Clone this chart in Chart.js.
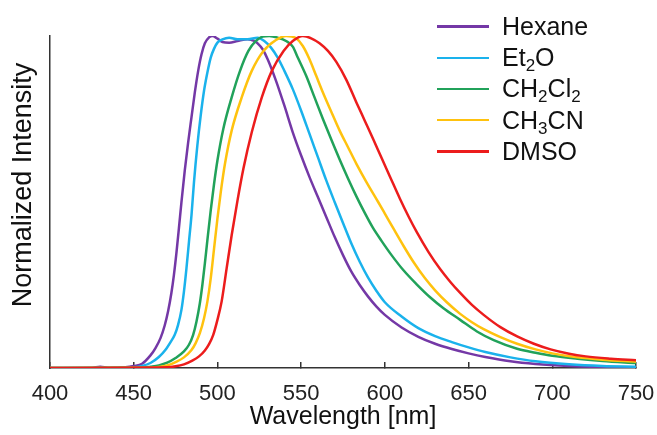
<!DOCTYPE html>
<html>
<head>
<meta charset="utf-8">
<script src="https://cdn.jsdelivr.net/npm/chart.js@4.4.1/dist/chart.umd.min.js"></script>
<style>
  body { margin: 0; background: #fff; }
  #wrap { position: relative; width: 657px; height: 435px; }
  #legend {
    position: absolute; left: 437px; top: 11px;
    font-family: 'Liberation Sans', Arial, sans-serif; font-size: 25px; color: #111;
  }
  .row { display: flex; align-items: center; height: 31.2px; white-space: nowrap; }
  .swatch { width: 52px; height: 2.5px; margin-right: 13px; }
  sub { font-size: 0.68em; vertical-align: -0.32em; line-height: 0; }
</style>
</head>
<body>
<div id="wrap">
  <canvas id="chart" width="657" height="435"></canvas>
  <div id="legend"></div>
</div>
<script>
// Emission spectra, normalized
const seriesNames = ['Hexane', 'Et2O', 'CH2Cl2', 'CH3CN', 'DMSO'];
const seriesColors = ['#7438a6', '#1ab2ec', '#21a25a', '#ffc20e', '#ec1c1c'];

const hexaneX = [400, 425, 430, 435, 445, 450, 455, 460, 463, 466, 468.5, 470.5, 472.5, 474, 475.5, 477, 478.5, 480.5, 482.5, 484.5, 486.5, 488.5, 490.5, 492.5, 495, 497, 500, 503, 507, 512, 518, 522, 524, 527, 530, 535, 540, 545, 550, 555, 560, 565, 570, 575, 580, 585, 590, 595, 600, 610, 620, 630, 640, 650, 660, 675, 690, 710, 730, 750];
const hexaneY = [0, 0, 0.004, 0, 0.002, 0.006, 0.013, 0.038, 0.06, 0.09, 0.128, 0.17, 0.226, 0.28, 0.346, 0.421, 0.499, 0.595, 0.679, 0.755, 0.83, 0.895, 0.945, 0.978, 0.996, 1.0, 0.992, 0.982, 0.98, 0.985, 0.99, 0.985, 0.978, 0.96, 0.93, 0.865, 0.79, 0.71, 0.64, 0.575, 0.515, 0.455, 0.395, 0.34, 0.29, 0.25, 0.215, 0.185, 0.16, 0.122, 0.094, 0.073, 0.057, 0.044, 0.033, 0.02, 0.012, 0.006, 0.003, 0.002];

const et2oX = [400, 450, 455, 460, 465, 469, 472, 474.5, 476.5, 478.5, 480, 481.5, 483, 484.5, 486, 488, 490, 492, 494, 496, 498, 500, 503, 507, 512, 518, 524, 528, 532, 536, 540, 545, 550, 555, 560, 565, 570, 575, 580, 585, 590, 595, 600, 610, 620, 630, 640, 650, 660, 675, 690, 710, 730, 750];
const et2oY = [0, 0.002, 0.006, 0.015, 0.033, 0.055, 0.078, 0.1, 0.13, 0.175, 0.23, 0.3, 0.38, 0.46, 0.56, 0.67, 0.76, 0.835, 0.89, 0.935, 0.962, 0.98, 0.99, 0.995, 0.99, 0.99, 0.995, 0.985, 0.965, 0.935, 0.895, 0.84, 0.775, 0.705, 0.635, 0.565, 0.5, 0.437, 0.375, 0.32, 0.272, 0.232, 0.198, 0.155, 0.12, 0.096, 0.078, 0.062, 0.048, 0.032, 0.02, 0.011, 0.006, 0.004];

const ch2cl2X = [400, 455, 460, 465, 470, 475, 480, 483, 485.5, 487.5, 489.5, 491, 492.5, 494, 496, 498, 500, 503.5, 508.5, 513.5, 518.5, 523, 527, 531, 536, 541, 545, 548, 553, 558, 563, 568, 573, 578, 583, 588, 593, 598, 604, 611, 619, 627, 635, 645, 655, 665, 679, 690, 700, 715, 730, 750];
const ch2cl2Y = [0, 0.001, 0.004, 0.008, 0.016, 0.03, 0.05, 0.07, 0.1, 0.14, 0.195, 0.25, 0.315, 0.385, 0.475, 0.555, 0.625, 0.72, 0.815, 0.895, 0.955, 0.985, 0.998, 1.0, 0.995, 0.985, 0.968, 0.935, 0.88, 0.815, 0.75, 0.688, 0.628, 0.571, 0.517, 0.467, 0.421, 0.383, 0.34, 0.295, 0.252, 0.213, 0.18, 0.145, 0.11, 0.084, 0.058, 0.046, 0.037, 0.028, 0.021, 0.015];

const ch3cnX = [400, 460, 465, 470, 475, 480, 484.5, 487, 489.5, 492, 494, 496, 498, 500, 502, 504.5, 508.5, 514.5, 520.5, 527.5, 535, 541, 547, 551, 555, 559, 563, 568, 573, 578, 583, 589, 596, 600, 605, 611, 617, 624, 630, 637, 645, 652, 659, 669, 679, 690, 700, 715, 730, 750];
const ch3cnY = [0, 0.001, 0.003, 0.008, 0.018, 0.032, 0.054, 0.075, 0.105, 0.15, 0.2, 0.27, 0.36, 0.45, 0.53, 0.615, 0.715, 0.815, 0.895, 0.955, 0.988, 1.0, 0.993, 0.97, 0.93, 0.88, 0.83, 0.772, 0.715, 0.665, 0.615, 0.56, 0.5, 0.465, 0.421, 0.369, 0.32, 0.27, 0.234, 0.198, 0.163, 0.138, 0.117, 0.093, 0.073, 0.056, 0.044, 0.032, 0.025, 0.019];

const dmsoX = [400, 470, 475, 480, 485, 489, 492.5, 495, 497.5, 500, 502.5, 505.5, 508.5, 512, 515.5, 520.5, 526.5, 532.5, 539.5, 545, 551, 556, 561, 566, 571, 577, 583, 588, 593, 598, 603, 609, 614, 619, 626, 633, 639, 645, 652, 659, 669, 679, 689, 699, 710, 720, 735, 750];
const dmsoY = [0, 0.002, 0.005, 0.011, 0.022, 0.035, 0.053, 0.072, 0.1, 0.145, 0.2, 0.3, 0.4, 0.505, 0.6, 0.71, 0.815, 0.895, 0.955, 0.985, 1.0, 0.993, 0.978, 0.955, 0.922, 0.868, 0.8, 0.745, 0.69, 0.633, 0.577, 0.51, 0.458, 0.41, 0.35, 0.298, 0.26, 0.226, 0.19, 0.16, 0.123, 0.095, 0.073, 0.056, 0.043, 0.035, 0.028, 0.023];

const xTicks = [400, 450, 500, 550, 600, 650, 700, 750];
const xTitle = 'Wavelength [nm]';
const yTitle = 'Normalized Intensity';

const seriesX = [hexaneX, et2oX, ch2cl2X, ch3cnX, dmsoX];
const seriesY = [hexaneY, et2oY, ch2cl2Y, ch3cnY, dmsoY];

const fontFamily = "'Liberation Sans', Arial, sans-serif";
const axisColor = '#333';

// Zip x/y arrays into points
function toPoints(xs, ys) {
    return xs.map((x, i) => ({ x: x, y: ys[i] }));
}

// Later solvents are drawn on top (lower order = drawn last)
const datasets = seriesNames.map((name, i) => ({
    label: name,
    data: toPoints(seriesX[i], seriesY[i]),
    borderColor: seriesColors[i],
    borderWidth: 2.5,
    pointRadius: 0,
    fill: false,
    cubicInterpolationMode: 'monotone',
    order: seriesNames.length - i
}));

// Rotated y-axis title, centred on the plot like the original
const yTitlePlugin = {
    id: 'yTitle',
    afterDraw(chart) {
        const ctx = chart.ctx;
        ctx.save();
        ctx.translate(24, 185);
        ctx.rotate(-Math.PI / 2);
        ctx.font = '27px ' + fontFamily;
        ctx.fillStyle = '#111';
        ctx.textAlign = 'center';
        ctx.textBaseline = 'middle';
        ctx.fillText(yTitle, 0, 0);
        ctx.restore();
    }
};

new Chart(document.getElementById('chart'), {
    type: 'line',
    data: { datasets: datasets },
    plugins: [yTitlePlugin],
    options: {
        responsive: false,
        animation: false,
        layout: { padding: { top: 36, right: 21, left: 0, bottom: 0 } },
        plugins: {
            legend: { display: false },
            tooltip: { enabled: false }
        },
        scales: {
            x: {
                type: 'linear',
                min: 400,
                max: 750,
                afterFit: scale => {
                    scale.height = 67;
                    scale.paddingLeft = 0;
                    scale.paddingRight = 0;
                },
                afterBuildTicks: scale => { scale.ticks = xTicks.map(v => ({ value: v })); },
                ticks: {
                    color: '#222',
                    padding: 19,
                    font: { size: 22, family: fontFamily }
                },
                grid: {
                    drawOnChartArea: false,
                    tickLength: -6,
                    color: axisColor,
                    lineWidth: 1.5
                },
                border: { color: axisColor, width: 1.5 },
                title: {
                    display: true,
                    text: xTitle,
                    color: '#111',
                    padding: { top: 0, bottom: 3 },
                    font: { size: 25, family: fontFamily }
                }
            },
            y: {
                min: 0,
                max: 1,
                afterFit: scale => { scale.width = 50; },
                ticks: { display: false },
                grid: { display: false },
                border: { color: axisColor, width: 1.5 }
            }
        }
    }
});

// HTML legend so the chemical formulas can use real subscripts
const legend = document.getElementById('legend');
seriesNames.forEach((name, i) => {
    const row = document.createElement('div');
    row.className = 'row';
    row.innerHTML = `<span class="swatch" style="background:${seriesColors[i]}"></span>` +
        `<span>${name.replace(/(\d)/g, '<sub>$1</sub>')}</span>`;
    legend.appendChild(row);
});
</script>
</body>
</html>
